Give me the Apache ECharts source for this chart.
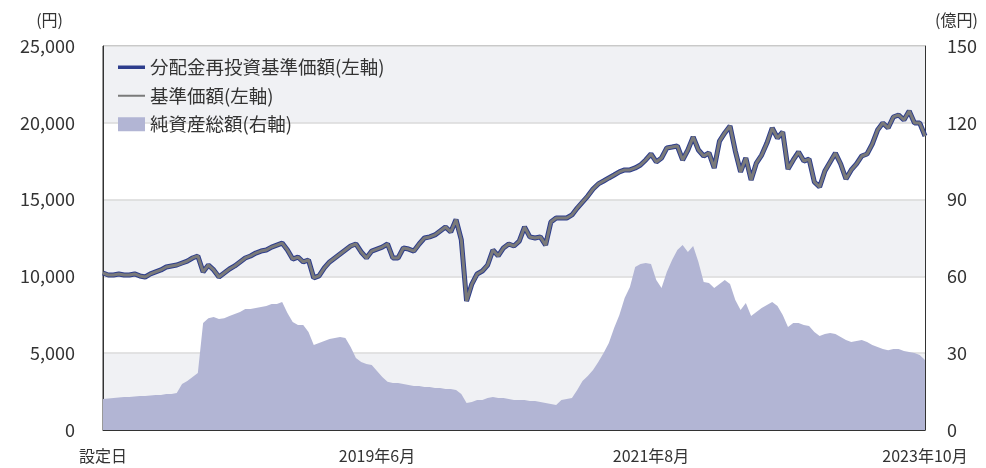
<!DOCTYPE html>
<html>
<head>
<meta charset="utf-8">
<script src="https://cdn.jsdelivr.net/npm/echarts@6/dist/echarts.min.js"></script>
<style>
html, body {margin:0; padding:0; background:#fff;}
#chart {width:986px; height:468px;}
</style>
</head>
<body>
<div id="chart"></div>
<script>
// 半月ごとの値 (設定日 2017年4月 〜 2023年10月)
// 基準価額(円) 分配金なしのため分配金再投資基準価額と同じ
var nav = [
    10220, 10090, 10090, 10160, 10090, 10090, 10160, 10030, 9960, 10160,
    10290, 10420, 10610, 10680, 10740, 10870, 11000, 11200, 11330, 10290,
    10740, 10420, 9960, 10220, 10480, 10680, 10940, 11200, 11330, 11520,
    11650, 11720, 11910, 12040, 12170, 11720, 11130, 11260, 10940, 11070,
    9900, 10030, 10550, 10940, 11200, 11460, 11720, 11980, 12110, 11590,
    11200, 11650, 11780, 11910, 12110, 11200, 11200, 11850, 11780, 11650,
    12110, 12500, 12570, 12700, 12960, 13220, 12890, 13700, 12370, 8400,
    9500, 10160, 10350, 10740, 11720, 11330, 11850, 12110, 11980, 12300,
    13220, 12570, 12500, 12570, 12040, 13540, 13800, 13800, 13800, 14000,
    14450, 14840, 15230, 15690, 16020, 16210, 16410, 16600, 16800, 16930,
    16930, 17060, 17250, 17580, 17970, 17450, 17710, 18360, 18420, 18490,
    17580, 18230, 19080, 18230, 17840, 18040, 17060, 18810, 19340, 19790,
    18160, 16800, 17710, 16280, 17380, 17900, 18680, 19660, 19010, 19400,
    16990, 17580, 18100, 17510, 17640, 16150, 15820, 16860, 17450, 18030,
    17320, 16340, 16930, 17320, 17840, 17970, 18620, 19530, 19990, 19660,
    20380, 20510, 20180, 20770, 19990, 19990, 19140
];
// 純資産総額(億円)
var aum = [
    12.1, 12.3, 12.5, 12.7, 12.9, 12.9, 13.1, 13.3, 13.3, 13.5,
    13.7, 13.7, 14.1, 14.1, 14.5, 18.0, 19.1, 20.7, 22.3, 41.8,
    43.7, 44.1, 43.4, 43.7, 44.5, 45.3, 46.1, 47.3, 47.3, 47.7,
    48.0, 48.4, 49.2, 49.2, 50.0, 45.7, 42.2, 41.0, 41.0, 38.3,
    33.2, 34.0, 34.8, 35.5, 35.9, 36.3, 35.9, 32.4, 28.1, 26.6,
    25.8, 25.4, 23.0, 20.7, 18.8, 18.4, 18.4, 18.0, 17.6, 17.2,
    17.2, 16.8, 16.8, 16.4, 16.4, 16.0, 16.0, 15.6, 14.1, 10.5,
    10.9, 11.7, 11.7, 12.5, 12.9, 12.5, 12.5, 12.1, 11.7, 11.7,
    11.7, 11.3, 11.3, 10.9, 10.5, 10.2, 9.8, 11.7, 12.1, 12.5,
    15.6, 19.1, 21.1, 23.4, 26.6, 30.1, 34.0, 39.8, 44.9, 51.6,
    55.9, 63.7, 64.8, 65.2, 64.8, 58.6, 55.5, 61.7, 66.4, 70.3,
    72.3, 69.5, 71.9, 65.6, 57.8, 57.4, 55.5, 57.0, 58.6, 57.0,
    50.8, 46.9, 49.6, 44.5, 46.1, 47.7, 48.8, 50.0, 48.4, 44.9,
    40.2, 41.8, 41.8, 41.0, 40.6, 38.3, 36.7, 37.5, 37.9, 37.5,
    36.3, 35.2, 34.4, 34.8, 35.2, 34.4, 33.2, 32.4, 31.6, 31.2,
    31.6, 31.6, 30.9, 30.5, 30.1, 29.3, 27.3
];
var tickLabels = ['設定日', '2019年6月', '2021年8月', '2023年10月'];
var tickIndex = [0, 52, 104, 156];

// 日付カテゴリ (半月刻み)
var dates = [];
for (var i = 0; i < nav.length; i++) {
    var m = 3 + Math.floor(i / 2);
    var y = 2017 + Math.floor(m / 12);
    dates.push(y + '/' + (m % 12 + 1) + '/' + (i % 2 == 0 ? '1' : '16'));
}

var jp = '"Noto Sans CJK JP", "Noto Sans", sans-serif';
var showTick = function (idx) {
    return tickIndex.indexOf(idx) >= 0;
};

var chart = echarts.init(document.getElementById('chart'));
var option = {
    animation: false,
    textStyle: {fontFamily: jp, color: '#333'},
    grid: {
        left: 103, right: 61, top: 46, bottom: 38,
        show: true, borderColor: '#333', borderWidth: 1, backgroundColor: 'transparent'
    },
    legend: {
        orient: 'vertical',
        left: 113, top: 53,
        itemWidth: 27, itemHeight: 14, itemGap: 10,
        symbolKeepAspect: true,
        textStyle: {fontFamily: jp, fontSize: 18.5, color: '#333'},
        data: [
            {name: '分配金再投資基準価額(左軸)', icon: 'path://M0,0 H27 V3.5 H0 Z'},
            {name: '基準価額(左軸)', icon: 'path://M0,0 H27 V2 H0 Z'},
            {name: '純資産総額(右軸)', icon: 'rect'}
        ]
    },
    xAxis: {
        type: 'category',
        data: dates,
        boundaryGap: false,
        axisLine: {lineStyle: {color: '#333', width: 1}},
        axisTick: {inside: true, length: 5, interval: showTick, lineStyle: {color: '#333'}},
        axisLabel: {
            interval: showTick,
            fontSize: 16, color: '#333', margin: 18,
            formatter: function (v, idx) {
                return tickLabels[tickIndex.indexOf(idx)];
            }
        },
        splitLine: {show: false}
    },
    yAxis: [{
        type: 'value',
        min: 0, max: 25000, interval: 5000,
        name: '(円)',
        nameGap: 18,
        nameTextStyle: {fontSize: 16, color: '#333', align: 'right', padding: [0, 40, 0, 0]},
        axisLine: {show: true, lineStyle: {color: '#333'}},
        axisTick: {show: false},
        axisLabel: {
            fontSize: 18, color: '#333', margin: 28,
            formatter: function (v) { return echarts.format.addCommas(v); }
        },
        splitLine: {lineStyle: {color: '#dadada', width: 1.5}},
        splitArea: {show: true, areaStyle: {color: ['#f0f1f4', '#ffffff']}}
    }, {
        type: 'value',
        min: 0, max: 150, interval: 30,
        name: '(億円)',
        nameGap: 18,
        nameTextStyle: {fontSize: 16, color: '#333', align: 'left', padding: [0, 0, 0, 10]},
        axisLine: {show: true, lineStyle: {color: '#333'}},
        axisTick: {show: false},
        axisLabel: {fontSize: 18, color: '#333', margin: 22},
        splitLine: {show: false}
    }],
    series: [{
        name: '純資産総額(右軸)',
        type: 'line',
        yAxisIndex: 1,
        data: aum,
        symbol: 'none',
        lineStyle: {width: 0, color: '#b2b5d4'},
        itemStyle: {color: '#b2b5d4'},
        areaStyle: {color: '#b2b5d4', opacity: 1},
        z: 1
    }, {
        name: '分配金再投資基準価額(左軸)',
        type: 'line',
        data: nav,
        symbol: 'none',
        lineStyle: {width: 5, color: '#2d3d8c'},
        itemStyle: {color: '#2d3d8c'},
        z: 3
    }, {
        name: '基準価額(左軸)',
        type: 'line',
        data: nav,
        symbol: 'none',
        lineStyle: {width: 3, color: '#7a7a7a'},
        itemStyle: {color: '#7a7a7a'},
        z: 4
    }]
};
chart.setOption(option);
</script>
</body>
</html>
